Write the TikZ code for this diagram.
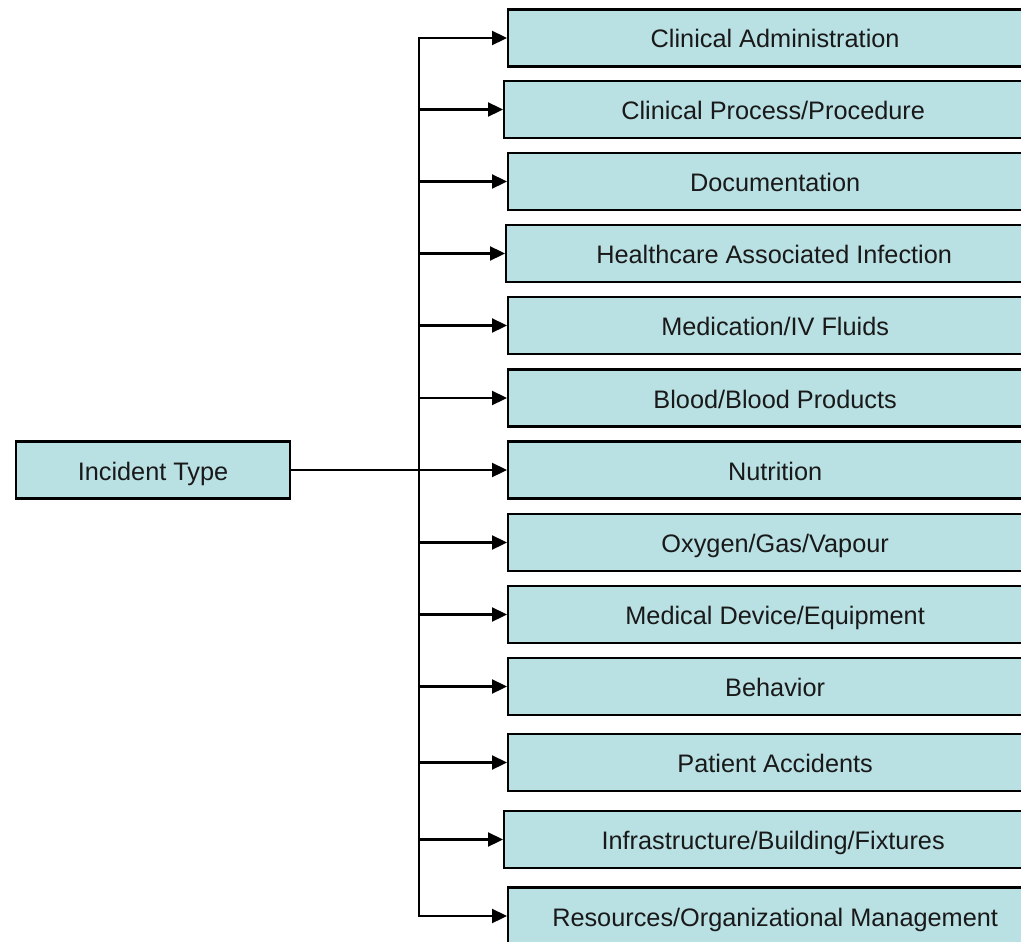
\documentclass[tikz,border=0pt]{standalone}
\usepackage{fontspec}
\setmainfont{Liberation Sans}
\usetikzlibrary{arrows.meta}
\definecolor{boxfill}{RGB}{185,224,227}
\tikzset{
  box/.style={draw=black, line width=2.3pt, fill=boxfill, minimum height=57pt,
    inner sep=0pt, font=\fontsize{25.3}{30}\selectfont, text=black!90,
    text height=20pt, text depth=0pt},
  child/.style={box, anchor=west, minimum width=534pt},
  arr/.style={line width=2.3pt, -{Triangle[length=15pt,width=14pt]}},
  link/.style={line width=2.3pt}
}
\begin{document}
\begin{tikzpicture}[x=1pt,y=-1pt]
\clip (0,0) rectangle (1021,942);
\fill[white] (0,0) rectangle (1021,942);
\node[box, minimum width=274pt] (it) at (153,470) {Incident Type};
\node[child] (c1) at (507,38) {Clinical Administration};
\node[child, minimum width=538pt] (c2) at (503,109.5) {Clinical Process/Procedure};
\node[child] (c3) at (507,181.5) {Documentation};
\node[child, minimum width=536pt] (c4) at (505,253.5) {Healthcare Associated Infection};
\node[child] (c5) at (507,325.5) {Medication/IV Fluids};
\node[child] (c6) at (507,398) {Blood/Blood Products};
\node[child] (c7) at (507,470) {Nutrition};
\node[child] (c8) at (507,542.5) {Oxygen/Gas/Vapour};
\node[child] (c9) at (507,614.5) {Medical Device/Equipment};
\node[child] (c10) at (507,686.5) {Behavior};
\node[child] (c11) at (507,762.5) {Patient Accidents};
\node[child, minimum width=538pt] (c12) at (503,839.5) {Infrastructure/Building/Fixtures};
\node[child] (c13) at (507,916) {Resources/Organizational Management};
\coordinate (hub) at (419,470);
\draw[arr] (it.east) -- (c7.west);
\foreach \i in {1,...,6,8,9,10,11,12,13}{
  \draw[arr] (hub) |- (c\i.west);
}
\end{tikzpicture}
\end{document}
